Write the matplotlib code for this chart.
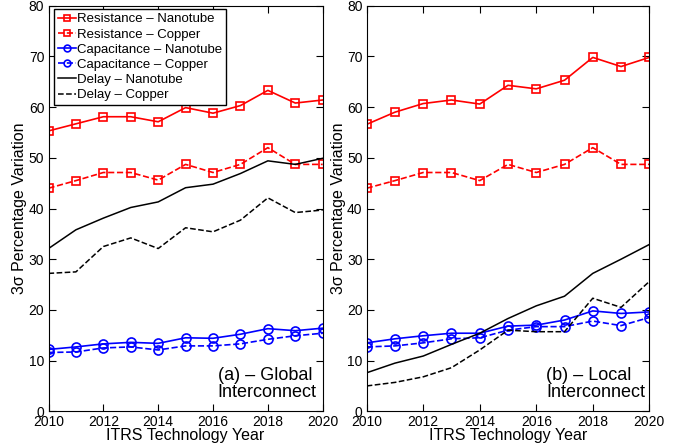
import numpy as np
import matplotlib.pyplot as plt

plt.rcParams['font.family'] = ['Liberation Sans', 'DejaVu Sans']

years = np.arange(2010, 2021)

# (a) global interconnect
res_cnt_g = [55.3, 56.7, 58.1, 58.1, 57.1, 59.9, 58.8, 60.3, 63.3, 60.8, 61.4]
res_cu_g = [44.0, 45.5, 47.1, 47.1, 45.6, 48.7, 47.1, 48.7, 52.0, 48.7, 48.7]
cap_cnt_g = [12.2, 12.7, 13.3, 13.6, 13.4, 14.5, 14.4, 15.2, 16.3, 15.9, 16.4]
cap_cu_g = [11.6, 11.7, 12.5, 12.7, 12.1, 12.9, 12.9, 13.3, 14.2, 14.9, 15.4]
del_cnt_g = [32.1, 35.8, 38.1, 40.2, 41.3, 44.1, 44.8, 46.9, 49.4, 48.7, 49.9]
del_cu_g = [27.2, 27.5, 32.5, 34.2, 32.1, 36.2, 35.4, 37.7, 42.1, 39.2, 39.7]

# (b) local interconnect
res_cnt_l = [56.6, 59.0, 60.7, 61.4, 60.6, 64.3, 63.6, 65.3, 69.8, 68.0, 69.8]
res_cu_l = [44.0, 45.5, 47.1, 47.1, 45.5, 48.7, 47.1, 48.7, 52.0, 48.7, 48.7]
cap_cnt_l = [13.5, 14.3, 14.9, 15.4, 15.4, 16.8, 17.0, 18.0, 19.8, 19.3, 19.6]
cap_cu_l = [12.7, 12.9, 13.5, 14.3, 14.5, 16.0, 16.7, 16.7, 17.8, 16.9, 18.5]
del_cnt_l = [7.6, 9.5, 10.9, 13.2, 15.4, 18.3, 20.8, 22.7, 27.2, 30.0, 32.9]
del_cu_l = [5.0, 5.7, 6.8, 8.6, 12.1, 16.0, 15.7, 15.7, 22.3, 20.5, 25.6]

labels = ['Resistance \u2013 Nanotube', 'Resistance \u2013 Copper',
          'Capacitance \u2013 Nanotube', 'Capacitance \u2013 Copper',
          'Delay \u2013 Nanotube', 'Delay \u2013 Copper']


def draw(ax, res_cnt, res_cu, cap_cnt, cap_cu, del_cnt, del_cu):
    ax.plot(years, res_cnt, 'rs-', mfc='none', ms=5.5, lw=1.2, mew=1.2)
    ax.plot(years, res_cu, 'rs--', mfc='none', ms=5.5, lw=1.2, mew=1.2)
    ax.plot(years, cap_cnt, 'bo-', mfc='none', ms=6.5, lw=1.2, mew=1.2)
    ax.plot(years, cap_cu, 'bo--', mfc='none', ms=6.5, lw=1.2, mew=1.2)
    ax.plot(years, del_cnt, 'k-', lw=1.1)
    ax.plot(years, del_cu, 'k--', lw=1.1)
    ax.set_xlim(2010, 2020)
    ax.set_ylim(0, 80)
    ax.set_xticks(np.arange(2010, 2021, 2))
    ax.set_yticks(np.arange(0, 81, 10))
    ax.tick_params(direction='in', top=True, right=True, labelsize=10,
                   length=5, pad=3)
    ax.set_xlabel('ITRS Technology Year', fontsize=11.5, labelpad=-1)
    ax.set_ylabel('3\u03c3 Percentage Variation', fontsize=11.5, labelpad=1)


fig = plt.figure(figsize=(6.88, 4.45), dpi=100)
ax1 = fig.add_axes([48.5 / 688, 1 - 411.3 / 445, 274.2 / 688, 405.6 / 445])
ax2 = fig.add_axes([366.7 / 688, 1 - 411.3 / 445, 282.6 / 688, 405.6 / 445])

draw(ax1, res_cnt_g, res_cu_g, cap_cnt_g, cap_cu_g, del_cnt_g, del_cu_g)
draw(ax2, res_cnt_l, res_cu_l, cap_cnt_l, cap_cu_l, del_cnt_l, del_cu_l)

leg = ax1.legend(labels, loc='upper left',
                 bbox_to_anchor=(5.8 / 274.2, 1 - 3.6 / 405.6),
                 borderaxespad=0, fontsize=9.5, handlelength=1.35,
                 handletextpad=0.1, borderpad=0.3, labelspacing=0.22,
                 markerscale=0.75, fancybox=False, edgecolor='k',
                 framealpha=1)
leg.get_frame().set_linewidth(1.0)

ax1.text(0.617, 0.025, '(a) \u2013 Global\nInterconnect', transform=ax1.transAxes,
         fontsize=13, ha='left', va='bottom', linespacing=1.0)
ax2.text(0.636, 0.025, '(b) \u2013 Local\nInterconnect', transform=ax2.transAxes,
         fontsize=13, ha='left', va='bottom', linespacing=1.0)

fig.savefig('out.png', dpi=100)
